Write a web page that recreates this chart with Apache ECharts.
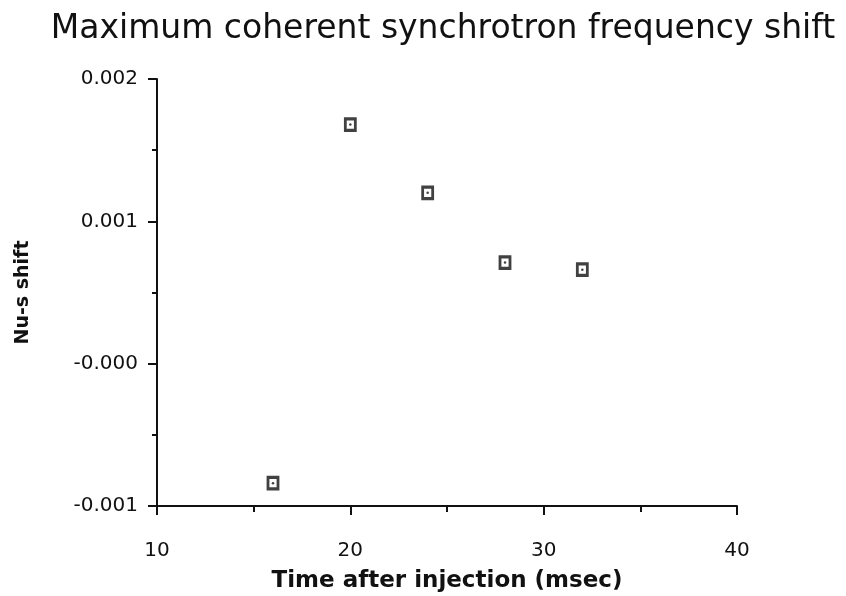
<!DOCTYPE html>
<html>
<head>
<meta charset="utf-8">
<script src="https://cdn.jsdelivr.net/npm/echarts@6/dist/echarts.min.js"></script>
<style>
  html, body { margin: 0; padding: 0; background: #fff; }
  #chart { width: 846px; height: 596px; }
</style>
</head>
<body>
<div id="chart"></div>
<script>
// time after injection (msec)
var times = [16, 20, 24, 28, 32]
// Nu-s shift
var shifts = [-0.00084, 0.00168, 0.0012, 0.00071, 0.00066]
// y tick labels as printed, bottom to top
var yTickLabels = ['-0.001', '-0.000', '0.001', '0.002']
var xTickLabels = ['10', '20', '30', '40']

var pts = times.map(function (t, i) { return [t, shifts[i]] })

var myChart = echarts.init(document.getElementById('chart'))

myChart.setOption({
  animation: false,
  title: {
    text: 'Maximum coherent synchrotron frequency shift',
    left: 438,
    textAlign: 'center',
    top: 8,
    textStyle: { fontFamily: 'DejaVu Sans', fontWeight: 'normal', fontSize: 33, color: '#111' }
  },
  grid: { left: 157, right: 109, top: 79, bottom: 90, outerBoundsMode: 'none' },
  xAxis: {
    type: 'value',
    min: 10,
    max: 40,
    interval: 10,
    name: 'Time after injection (msec)',
    nameLocation: 'middle',
    nameGap: 64,
    nameTextStyle: { fontFamily: 'DejaVu Sans', fontWeight: 'bold', fontSize: 23, color: '#111' },
    axisLine: { onZero: false, lineStyle: { color: '#111', width: 2 } },
    axisTick: { length: 9, lineStyle: { color: '#111', width: 2 } },
    minorTick: { show: true, splitNumber: 2, length: 6, lineStyle: { color: '#111', width: 2 } },
    splitLine: { show: false },
    axisLabel: {
      margin: 35,
      fontFamily: 'DejaVu Sans', fontSize: 20, color: '#111',
      formatter: function (v) { return xTickLabels[Math.round((v - 10) / 10)] }
    }
  },
  yAxis: {
    type: 'value',
    min: -0.001,
    max: 0.002,
    interval: 0.001,
    name: 'Nu-s shift',
    nameLocation: 'middle',
    nameGap: 124,
    nameTextStyle: { fontFamily: 'DejaVu Sans', fontWeight: 'bold', fontSize: 19, color: '#111' },
    axisLine: { lineStyle: { color: '#111', width: 2 } },
    axisTick: { length: 9, lineStyle: { color: '#111', width: 2 } },
    minorTick: { show: true, splitNumber: 2, length: 5, lineStyle: { color: '#111', width: 2 } },
    splitLine: { show: false },
    axisLabel: {
      margin: 19,
      fontFamily: 'DejaVu Sans', fontSize: 20, color: '#111',
      formatter: function (v) { return yTickLabels[Math.round((v + 0.001) / 0.001)] }
    }
  },
  series: [
    {
      type: 'scatter',
      data: pts,
      symbol: 'rect',
      symbolSize: [10, 11.5],
      itemStyle: { color: '#fff', borderColor: '#111', borderWidth: 3 }
    },
    {
      type: 'scatter',
      data: pts,
      symbol: 'circle',
      symbolSize: 2.5,
      itemStyle: { color: '#111' }
    }
  ]
})
</script>
</body>
</html>
